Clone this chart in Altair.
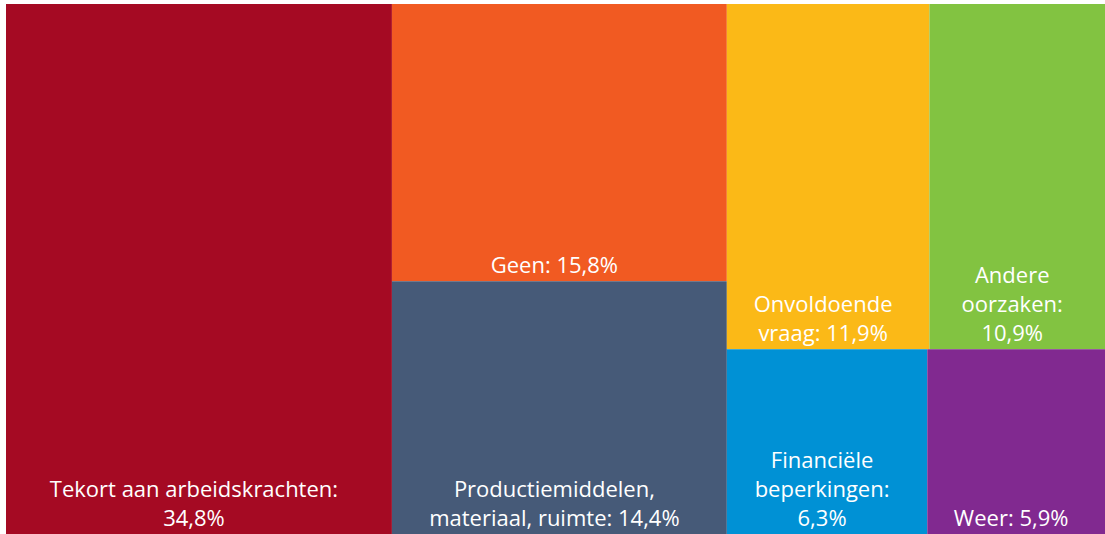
import altair as alt
import pandas as pd

# ---- data ----
categories = [
    "Tekort aan arbeidskrachten",
    "Geen",
    "Productiemiddelen, materiaal, ruimte",
    "Onvoldoende vraag",
    "Andere oorzaken",
    "Financiële beperkingen",
    "Weer",
]
values = [34.8, 15.8, 14.4, 11.9, 10.9, 6.3, 5.9]
label_prefix = [
    "Tekort aan arbeidskrachten:\n",
    "Geen: ",
    "Productiemiddelen,\nmateriaal, ruimte: ",
    "Onvoldoende\nvraag: ",
    "Andere\noorzaken:\n",
    "Financiële\nbeperkingen:\n",
    "Weer: ",
]
colors = ["#A50A23", "#F15A22", "#465A78", "#FBB917", "#82C341", "#0091D5", "#812990"]

# treemap structure: columns -> (stacked cells) or (rows of side-by-side cells)
structure = [
    [0],
    [1, 2],
    [[3, 4], [5, 6]],
]

PLOT_W, PLOT_H = 1099, 530
LINE_H = 29      # px between text lines
BASE_OFF = 8     # px from cell bottom to last baseline
XMAX = 99.1      # visible part of the horizontal range

val = dict(enumerate(values))


def total(node):
    if isinstance(node, list):
        return sum(total(n) for n in node)
    return val[node]


cells = []
x = 0.0
for col in structure:
    cw = total(col)
    y = 0.0
    for item in col:
        h = total(item) / cw
        if isinstance(item, list):
            xx = x
            for idx in item:
                w = cw * val[idx] / total(item)
                cells.append((idx, xx, xx + w, y, y + h))
                xx += w
        else:
            cells.append((item, x, x + cw, y, y + h))
        y += h
    x += cw

rect_recs, text_recs = [], []
for idx, x0, x1, y0, y1 in cells:
    rect_recs.append(dict(cat=categories[idx], x0=x0, x1=x1, y0=y0, y1=y1))
    label = label_prefix[idx] + f"{values[idx]:.1f}".replace(".", ",") + "%"
    lines = label.split("\n")
    n = len(lines)
    for i, line in enumerate(lines):
        off = BASE_OFF + (n - 1 - i) * LINE_H
        text_recs.append(
            dict(
                xc=(x0 + min(x1, XMAX)) / 2,
                yl=y1 - off / PLOT_H,
                line=line,
            )
        )

rdf = pd.DataFrame(rect_recs)
tdf = pd.DataFrame(text_recs)

xs = alt.Scale(domain=[0, XMAX], nice=False, zero=False)
ys = alt.Scale(domain=[0, 1], nice=False, reverse=True)

rects = alt.Chart(rdf).mark_rect(strokeWidth=0, clip=True).encode(
    x=alt.X("x0:Q", scale=xs, axis=None),
    x2="x1:Q",
    y=alt.Y("y0:Q", scale=ys, axis=None),
    y2="y1:Q",
    color=alt.Color("cat:N", scale=alt.Scale(domain=categories, range=colors), legend=None),
)

texts = alt.Chart(tdf).mark_text(
    color="white",
    font="Open Sans",
    fontSize=22,
    align="center",
    baseline="alphabetic",
    dx=-5,
).encode(
    x=alt.X("xc:Q", scale=xs, axis=None),
    y=alt.Y("yl:Q", scale=ys, axis=None),
    text="line:N",
)

chart = (
    alt.layer(rects, texts)
    .properties(
        width=PLOT_W,
        height=PLOT_H,
        padding={"left": 6, "top": 4, "right": 0, "bottom": 0},
        background="white",
        autosize=alt.AutoSizeParams(type="none"),
    )
    .configure_view(strokeWidth=0)
)

chart.save("out.html", embed_options={"renderer": "svg", "actions": False})
